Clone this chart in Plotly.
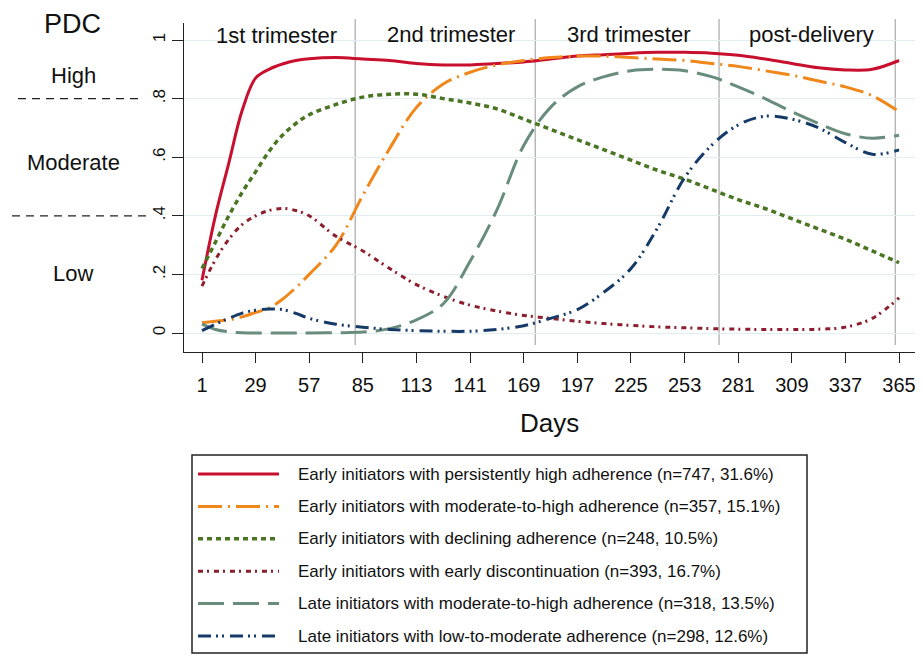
import plotly.graph_objects as go

# ---------------- data ----------------
days = [1, 8, 15, 22, 29, 36, 43, 50, 57, 71, 85, 99, 113, 127, 141, 155, 169, 183,
        197, 211, 225, 239, 253, 267, 281, 295, 309, 323, 337, 351, 365]

persist_high = [0.18, 0.40, 0.58, 0.76, 0.87, 0.90, 0.918, 0.93, 0.936, 0.94, 0.935, 0.93,
                0.92, 0.915, 0.915, 0.92, 0.925, 0.935, 0.945, 0.95, 0.955, 0.958, 0.958,
                0.955, 0.948, 0.935, 0.92, 0.905, 0.898, 0.90, 0.93]
early_mod_high = [0.035, 0.04, 0.045, 0.055, 0.07, 0.085, 0.115, 0.155, 0.20, 0.30, 0.47,
                  0.63, 0.77, 0.85, 0.89, 0.915, 0.93, 0.94, 0.945, 0.945, 0.94, 0.935,
                  0.93, 0.92, 0.91, 0.895, 0.88, 0.86, 0.84, 0.81, 0.755]
declining = [0.22, 0.31, 0.40, 0.48, 0.55, 0.62, 0.675, 0.715, 0.745, 0.78, 0.805, 0.815,
             0.815, 0.80, 0.785, 0.765, 0.73, 0.695, 0.66, 0.625, 0.59, 0.555, 0.525,
             0.49, 0.455, 0.425, 0.39, 0.355, 0.32, 0.28, 0.24]
early_disc = [0.16, 0.25, 0.32, 0.37, 0.40, 0.418, 0.425, 0.418, 0.40, 0.33, 0.28, 0.22,
              0.165, 0.125, 0.095, 0.075, 0.06, 0.05, 0.04, 0.032, 0.026, 0.021, 0.018,
              0.015, 0.013, 0.012, 0.012, 0.013, 0.02, 0.05, 0.12]
late_mod_high = [0.03, 0.012, 0.004, 0.001, 0.0, 0.0, 0.0, 0.0, 0.0, 0.001, 0.003, 0.015,
                 0.045, 0.10, 0.245, 0.42, 0.64, 0.77, 0.84, 0.875, 0.895, 0.90, 0.895,
                 0.875, 0.84, 0.80, 0.755, 0.715, 0.68, 0.665, 0.675]
late_low_mod = [0.008, 0.03, 0.05, 0.068, 0.078, 0.082, 0.08, 0.067, 0.05, 0.03, 0.02, 0.012,
                0.008, 0.006, 0.006, 0.012, 0.025, 0.05, 0.08, 0.14, 0.22, 0.36, 0.53,
                0.64, 0.71, 0.74, 0.73, 0.70, 0.65, 0.61, 0.625]

series_names = [
    "Early initiators with persistently high adherence (n=747, 31.6%)",
    "Early initiators with moderate-to-high adherence (n=357, 15.1%)",
    "Early initiators with declining adherence (n=248, 10.5%)",
    "Early initiators with early discontinuation (n=393, 16.7%)",
    "Late initiators with moderate-to-high adherence (n=318, 13.5%)",
    "Late initiators with low-to-moderate adherence (n=298, 12.6%)",
]
series_values = [persist_high, early_mod_high, declining, early_disc, late_mod_high, late_low_mod]

x_ticks = [1, 29, 57, 85, 113, 141, 169, 197, 225, 253, 281, 309, 337, 365]
y_ticks = [0, 0.2, 0.4, 0.6, 0.8, 1]
y_ticktext = ["0", ".2", ".4", ".6", ".8", "1"]

period_bounds = [81, 175, 271, 363]
period_labels = ["1st trimester", "2nd trimester", "3rd trimester", "post-delivery"]
level_labels = ["High", "Moderate", "Low"]
level_cuts = [0.8, 0.4]

# ---------------- styles ----------------
colors = ["#c8102e", "#f0871a", "#4a7522", "#8c1e2d", "#688d7d", "#163a68"]
dashes = ["solid", "24px,6px,2px,6px", "5px,4px", "5px,4px,2px,5px", "26px,9px",
          "13px,5px,2px,4px,2px,6px"]
widths = [3, 3, 3.5, 3, 3, 3]

FONT = "Liberation Sans, Arial, sans-serif"
OFF = 8                      # page body margin
W, H = 923 - OFF - 2, 662 - 2 * OFF
# plot area in page pixels
L, R, T, B = 184, 917, 23, 352
# data mapping in page pixels
X1_PIX, X_PER_DAY = 202, 1.915
Y0_PIX, Y_PER_UNIT = 333, 293


def px(xpix):
    return (xpix - L) / (R - L)


def py(ypix):
    return (B - ypix) / (B - T)


fig = go.Figure()
for name, vals, c, d, w in zip(series_names, series_values, colors, dashes, widths):
    fig.add_trace(go.Scatter(x=days, y=vals, mode="lines", name=name,
                             line=dict(color=c, dash=d, width=w, shape="spline", smoothing=1),
                             showlegend=False))

shapes = []
for b in period_bounds:
    shapes.append(dict(type="line", xref="x", yref="paper", x0=b, x1=b,
                       y0=py(345), y1=py(19), line=dict(color="#a8a8a8", width=1.2),
                       layer="below"))
for cut, (x0p, x1p) in zip(level_cuts, [(18, 143), (12, 150)]):
    shapes.append(dict(type="line", xref="paper", yref="y", x0=px(x0p), x1=px(x1p),
                       y0=cut, y1=cut, line=dict(color="#222222", width=1.3, dash="8px,6px")))


def label(text, xc, yc, size, xanchor="center"):
    return dict(text=text, xref="paper", yref="paper", x=px(xc), y=py(yc),
                xanchor=xanchor, yanchor="middle", showarrow=False,
                font=dict(size=size, family=FONT, color="#111"))


annotations = [label("PDC", 72, 24, 27)]
for lab, ypos in zip(level_labels, [75, 163, 273]):
    annotations.append(label(lab, 73, ypos, 22))
for lab, xc, yc in zip(period_labels, [276, 451, 628, 811], [36, 34, 34, 34]):
    annotations.append(label(lab, xc, yc, 22))
annotations.append(label("Days", 549, 423, 26))

# legend box (drawn manually)
shapes.append(dict(type="rect", xref="paper", yref="paper", x0=px(192), x1=px(807),
                   y0=py(653), y1=py(455), line=dict(color="#222222", width=1.5)))
for i, (name, c, d, w) in enumerate(zip(series_names, colors, dashes, widths)):
    yy = 474 + 32.4 * i
    shapes.append(dict(type="line", xref="paper", yref="paper", x0=px(198), x1=px(279),
                       y0=py(yy), y1=py(yy), line=dict(color=c, dash=d, width=w)))
    annotations.append(label(name, 296, yy, 17, xanchor="left"))

fig.update_layout(
    width=W, height=H,
    margin=dict(l=L - OFF, r=W - (R - OFF), t=T - OFF, b=H - (B - OFF), pad=0),
    paper_bgcolor="white", plot_bgcolor="white",
    shapes=shapes, annotations=annotations,
    font=dict(family=FONT, color="#111"),
)
fig.update_xaxes(range=[1 + (L - X1_PIX) / X_PER_DAY, 1 + (R - X1_PIX) / X_PER_DAY],
                 tickvals=x_ticks, ticks="outside", ticklen=10, tickwidth=1.3,
                 tickcolor="#222", showline=True, linecolor="#222", linewidth=1.3,
                 showgrid=False, zeroline=False, tickfont=dict(size=20, family=FONT),
                 ticklabelstandoff=5, ticklabeloverflow="allow")
fig.update_yaxes(range=[(Y0_PIX - B) / Y_PER_UNIT, (Y0_PIX - T) / Y_PER_UNIT],
                 tickvals=y_ticks, ticktext=y_ticktext, tickangle=-90,
                 ticks="outside", ticklen=11, tickwidth=1.3, tickcolor="#222",
                 showline=True, linecolor="#222", linewidth=1.3,
                 showgrid=True, gridcolor="#e2edf1", gridwidth=1.2, zeroline=False,
                 tickfont=dict(size=17, family=FONT), ticklabelstandoff=0)

fig.write_html("out.html")
